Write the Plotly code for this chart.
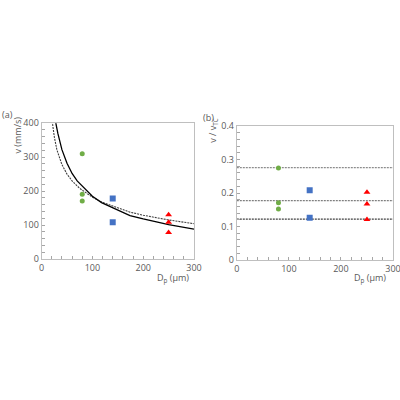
import plotly.graph_objects as go

# ---- data ----
D_green = [80, 80, 80]
v_green = [310, 191, 171]
D_blue = [140, 140]
v_blue = [178, 108]
D_red = [250, 250, 250]
v_red = [130, 108, 78]

# fitted curves
D_solid = [27, 28, 32, 35, 40, 50, 60, 70, 85, 100, 118, 150, 174, 200, 250, 300]
v_solid = [415, 400, 370, 350, 322, 282, 252, 230, 208, 185, 166, 143, 128, 118, 101, 88]
D_dash = [20, 21, 25, 30, 40, 50, 60, 75, 100, 118, 150, 174, 200, 250, 300]
v_dash = [415, 400, 360, 322, 278, 250, 230, 208, 182, 168, 150, 138, 129, 115, 104]

# normalized panel (b)
r_green = [0.275, 0.171, 0.152]
r_blue = [0.208, 0.126]
r_red = [0.202, 0.167, 0.121]
h_levels = [0.276, 0.177, 0.122]
h_x = [0, 300]

GREEN = "#70ad47"
BLUE = "#4472c4"
RED = "#ff0000"
TXT = "#595959"
AX = "#bfbfbf"

fig = go.Figure()

# panel (a)
fig.add_trace(go.Scatter(x=D_dash, y=v_dash, mode="lines",
                         line=dict(color="#404040", width=1.1, dash="2px,1px"),
                         xaxis="x", yaxis="y", showlegend=False))
fig.add_trace(go.Scatter(x=D_solid, y=v_solid, mode="lines",
                         line=dict(color="#000000", width=1.3),
                         xaxis="x", yaxis="y", showlegend=False))
fig.add_trace(go.Scatter(x=D_green, y=v_green, mode="markers",
                         marker=dict(color=GREEN, size=5, symbol="circle"),
                         xaxis="x", yaxis="y", showlegend=False))
fig.add_trace(go.Scatter(x=D_blue, y=v_blue, mode="markers",
                         marker=dict(color=BLUE, size=6, symbol="square"),
                         xaxis="x", yaxis="y", showlegend=False))
fig.add_trace(go.Scatter(x=D_red, y=v_red, mode="markers",
                         marker=dict(color=RED, size=6, symbol="triangle-up"),
                         xaxis="x", yaxis="y", showlegend=False))

# panel (b)
line_styles = [("#8c8c8c", "2px,1px"), ("#7f7f7f", "2px,1px"), ("#404040", "2px,1px")]
for lvl, (c, d) in zip(h_levels, line_styles):
    fig.add_trace(go.Scatter(x=h_x, y=[lvl, lvl], mode="lines",
                             line=dict(color=c, width=1.3, dash=d),
                             xaxis="x2", yaxis="y2", showlegend=False))
fig.add_trace(go.Scatter(x=D_green, y=r_green, mode="markers",
                         marker=dict(color=GREEN, size=5, symbol="circle"),
                         xaxis="x2", yaxis="y2", showlegend=False))
fig.add_trace(go.Scatter(x=D_blue, y=r_blue, mode="markers",
                         marker=dict(color=BLUE, size=6, symbol="square"),
                         xaxis="x2", yaxis="y2", showlegend=False))
fig.add_trace(go.Scatter(x=D_red, y=r_red, mode="markers",
                         marker=dict(color=RED, size=6, symbol="triangle-up"),
                         xaxis="x2", yaxis="y2", showlegend=False))

axis_common = dict(showgrid=False, zeroline=False, showline=True, linecolor=AX,
                   linewidth=1, mirror=True, ticks="inside", ticklen=3, automargin=False,
                   ticklabeloverflow="allow",
                   tickcolor="#a6a6a6", tickfont=dict(size=9, color=TXT, family="Open Sans"))
minor_common = dict(ticks="inside", ticklen=3, tickcolor="#a6a6a6")

fig.update_layout(
    width=400, height=400,
    margin=dict(l=0, r=0, t=0, b=0, autoexpand=False),
    paper_bgcolor="white", plot_bgcolor="white",
    xaxis=dict(domain=[0.104, 0.485], range=[0, 300], dtick=100, anchor="y",
               minor=dict(dtick=20, **minor_common), **axis_common),
    yaxis=dict(domain=[0.3525, 0.692], range=[0, 400], dtick=100, anchor="x",
               minor=dict(dtick=20, **minor_common), **axis_common),
    xaxis2=dict(domain=[0.592, 0.9825], range=[0, 300], dtick=100, anchor="y2",
                minor=dict(dtick=20, **minor_common), **axis_common),
    yaxis2=dict(domain=[0.35, 0.685], range=[0, 0.4], dtick=0.1, anchor="x2",
                minor=dict(dtick=0.02, **minor_common), **axis_common),
)

ann_font = dict(size=9, color=TXT, family="Open Sans")
fig.add_annotation(text="(a)", x=0.0, y=0.715, xref="paper", yref="paper",
                   xanchor="left", yanchor="middle", showarrow=False, font=ann_font)
fig.add_annotation(text="(b)", x=0.503, y=0.7075, xref="paper", yref="paper",
                   xanchor="left", yanchor="middle", showarrow=False, font=ann_font)
fig.add_annotation(text="v (mm/s)", x=0.0425, y=0.7125, xref="paper", yref="paper",
                   xanchor="center", yanchor="top", textangle=-90, showarrow=False, font=ann_font)
fig.add_annotation(text="v / v<sub>TC</sub>", x=0.532, y=0.7075, xref="paper", yref="paper",
                   xanchor="center", yanchor="top", textangle=-90, showarrow=False, font=ann_font)
fig.add_annotation(text="D<sub>p</sub> (μm)", x=0.4325, y=0.305, xref="paper", yref="paper",
                   xanchor="center", yanchor="middle", showarrow=False, font=ann_font)
fig.add_annotation(text="D<sub>p</sub> (μm)", x=0.925, y=0.305, xref="paper", yref="paper",
                   xanchor="center", yanchor="middle", showarrow=False, font=ann_font)

fig.write_html("out.html", config={"displayModeBar": False},
               post_script="document.body.style.margin='0';document.body.style.overflow='hidden';")
